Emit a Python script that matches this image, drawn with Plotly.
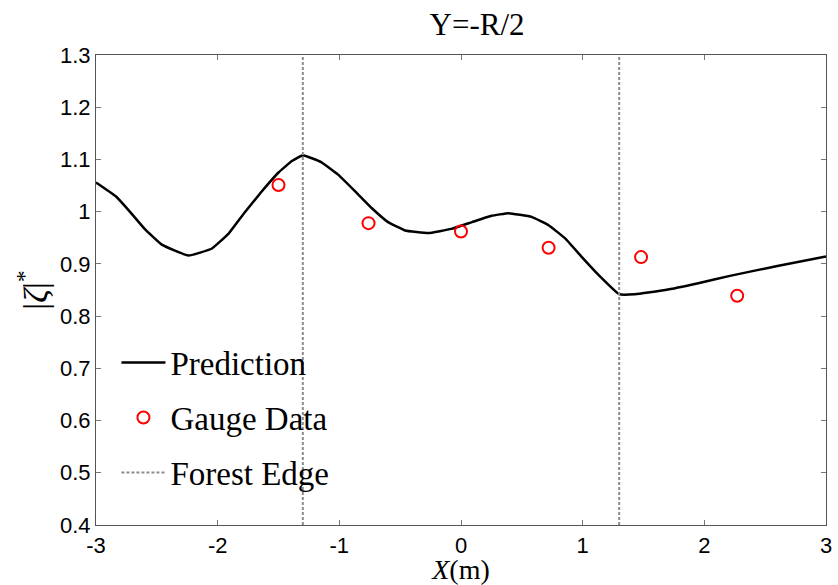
import plotly.graph_objects as go

# Prediction curve
pred_x = [-3.0, -2.84, -2.74, -2.60, -2.46, -2.24, -2.05, -1.91, -1.78, -1.64, -1.50,
          -1.39, -1.30, -1.15, -1.01, -0.87, -0.73, -0.60, -0.46, -0.27, -0.08, 0.09,
          0.25, 0.39, 0.58, 0.72, 0.86, 0.99, 1.13, 1.30, 1.43, 1.68, 1.95, 2.21, 2.6, 3.0]
pred_y = [1.056, 1.030, 1.005, 0.967, 0.937, 0.916, 0.929, 0.958, 0.998, 1.038, 1.075,
          1.097, 1.108, 1.095, 1.071, 1.039, 1.006, 0.980, 0.964, 0.959, 0.967, 0.980,
          0.992, 0.997, 0.990, 0.974, 0.948, 0.914, 0.879, 0.842, 0.842, 0.850, 0.863, 0.877, 0.896, 0.914]

# Gauge data
gauge_x = [-1.50, -0.76, 0.0, 0.72, 1.48, 2.27]
gauge_y = [1.051, 0.978, 0.962, 0.931, 0.913, 0.839]

# Forest edges
edge_x = [-1.3, 1.3]
y_range = [0.4, 1.3]

x_ticks = [-3, -2, -1, 0, 1, 2, 3]
y_ticks = [0.4, 0.5, 0.6, 0.7, 0.8, 0.9, 1.0, 1.1, 1.2, 1.3]
y_ticktext = ["0.4", "0.5", "0.6", "0.7", "0.8", "0.9", "1", "1.1", "1.2", "1.3"]

serif = "Liberation Serif"
sans = "Liberation Sans"

fig = go.Figure()

fig.add_trace(go.Scatter(
    x=pred_x, y=pred_y, mode="lines", name="Prediction",
    line=dict(color="black", width=2.5, shape="spline", smoothing=0.3),
    legendgroup="a",
))
fig.add_trace(go.Scatter(
    x=gauge_x, y=gauge_y, mode="markers", name="Gauge Data",
    marker=dict(symbol="circle-open", size=12, color="red", line=dict(width=2, color="red")),
    legendgroup="b",
))
ex, ey = [], []
for e in edge_x:
    ex += [e, e, None]
    ey += [y_range[0], y_range[1], None]
fig.add_trace(go.Scatter(
    x=ex, y=ey, mode="lines", name="Forest Edge",
    line=dict(color="#8c8c8c", width=2, dash="3px,2px"),
    legendgroup="c",
))

axis_common = dict(
    showline=True, linecolor="#555555", linewidth=1, mirror="ticks",
    ticks="inside", ticklen=5, tickcolor="#777777", tickwidth=1,
    showgrid=False, zeroline=False, automargin=False,
    tickfont=dict(family=sans, size=22, color="black"),
)

fig.update_layout(
    width=838, height=585,
    margin=dict(l=96, r=12, t=55, b=60),
    plot_bgcolor="white", paper_bgcolor="white",
    title=dict(text="Y=-R/2", x=0.522, xref="paper", y=1 - 24 / 585, yref="container",
               xanchor="center", yanchor="middle",
               font=dict(family=serif, size=31, color="black")),
    xaxis=dict(range=[-3, 3], tickvals=x_ticks, ticktext=[str(v) for v in x_ticks],
               ticklabelstandoff=1,
               title=dict(text="<i>X</i>(m)", font=dict(family=serif, size=28, color="black"),
                          standoff=6),
               **axis_common),
    yaxis=dict(range=y_range, tickvals=y_ticks, ticktext=y_ticktext,
               title=dict(text="|<i>ζ</i>|<sup>*</sup>", font=dict(family=serif, size=34, color="black"),
                          standoff=2),
               **axis_common),
    legend=dict(x=0.028, y=0.405, xanchor="left", yanchor="top",
                bgcolor="rgba(0,0,0,0)", borderwidth=0,
                font=dict(family=serif, size=33, color="black"),
                tracegroupgap=9, itemwidth=44),
)

fig.write_html("out.html")
